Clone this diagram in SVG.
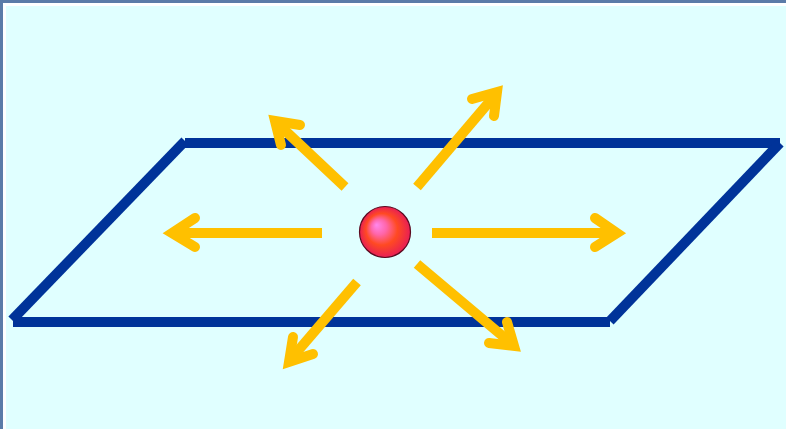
<svg xmlns="http://www.w3.org/2000/svg" width="786" height="429" viewBox="0 0 786 429">
  <defs>
    <radialGradient id="ballGrad" cx="0.5" cy="0.5" r="0.5" fx="0.33" fy="0.36">
      <stop offset="0" stop-color="#FF88EE"/>
      <stop offset="0.3" stop-color="#FF66AA"/>
      <stop offset="0.62" stop-color="#FF4A22"/>
      <stop offset="1" stop-color="#E81E55"/>
    </radialGradient>
    <style>
      .edge { stroke: #003399; stroke-width: 10; fill: none; stroke-linecap: butt; }
      .shaft { stroke: #FFC000; stroke-width: 10; fill: none; stroke-linecap: butt; }
      .head { stroke: #FFC000; stroke-width: 10; fill: none; stroke-linecap: round; stroke-linejoin: miter; stroke-miterlimit: 10; }
    </style>
  </defs>
  <rect x="0" y="0" width="786" height="429" fill="#5B7BA8"/>
  <rect x="3" y="3" width="783" height="426" fill="#FFFFFF"/>
  <rect x="6" y="6" width="780" height="423" fill="#E0FFFF"/>

  <g id="plane">
    <line class="edge" x1="185" y1="143" x2="780" y2="143"/>
    <line class="edge" x1="780" y1="143" x2="610" y2="321"/>
    <line class="edge" x1="610" y1="322" x2="13" y2="322"/>
    <line class="edge" x1="12" y1="320" x2="185" y2="141"/>
  </g>

  <g id="connectors">
    <g id="arrow-left">
      <line class="shaft" x1="322" y1="233" x2="174" y2="233"/>
      <polyline class="head" points="195,218 172,233 195,247"/>
    </g>
    <g id="arrow-right">
      <line class="shaft" x1="432" y1="233" x2="615" y2="233"/>
      <polyline class="head" points="595,218 617,233 595,247"/>
    </g>
    <g id="arrow-up-right">
      <line class="shaft" x1="417" y1="187" x2="496" y2="94"/>
      <polyline class="head" points="472,99 497,92 494,116"/>
    </g>
    <g id="arrow-up-left">
      <line class="shaft" x1="345" y1="187" x2="277" y2="123"/>
      <polyline class="head" points="300,125 275,121 281,145"/>
    </g>
    <g id="arrow-down-left">
      <line class="shaft" x1="357" y1="282" x2="290" y2="360"/>
      <polyline class="head" points="293,337 289,362 313,354"/>
    </g>
    <g id="arrow-down-right">
      <line class="shaft" x1="417" y1="264" x2="512" y2="344"/>
      <polyline class="head" points="507,322 514,346 489,343"/>
    </g>
  </g>

  <g id="ball">
    <circle cx="385" cy="232" r="25.5" fill="url(#ballGrad)" stroke="#5A0A1E" stroke-width="1.2"/>
  </g>
</svg>
